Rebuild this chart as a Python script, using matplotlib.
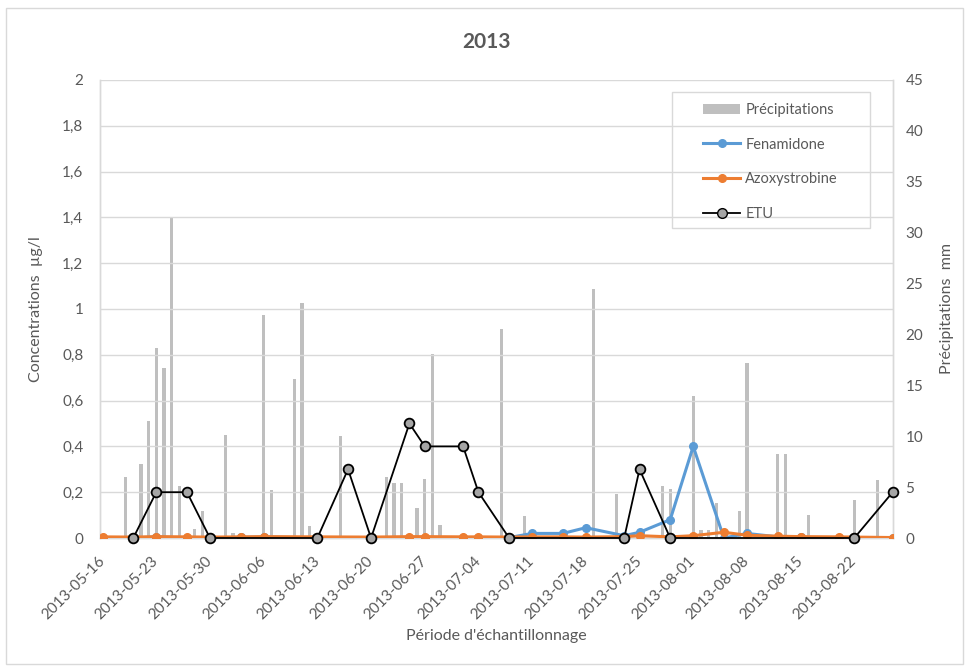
import datetime as dt
import matplotlib
matplotlib.use("Agg")
import matplotlib.pyplot as plt
import matplotlib.dates as mdates
from matplotlib.lines import Line2D
from matplotlib.patches import Patch, Rectangle

plt.rcParams['font.family'] = ['Lato', 'DejaVu Sans']

# Daily precipitation (mm)
precip_dates = ['2013-05-19', '2013-05-21', '2013-05-22', '2013-05-23', '2013-05-24',
                '2013-05-25', '2013-05-26', '2013-05-28', '2013-05-29', '2013-06-01',
                '2013-06-02', '2013-06-06', '2013-06-07', '2013-06-10', '2013-06-11',
                '2013-06-12', '2013-06-16', '2013-06-22', '2013-06-23', '2013-06-24',
                '2013-06-26', '2013-06-27', '2013-06-28', '2013-06-29', '2013-07-07',
                '2013-07-10', '2013-07-19', '2013-07-22', '2013-07-28', '2013-07-29',
                '2013-08-01', '2013-08-02', '2013-08-03', '2013-08-04', '2013-08-07',
                '2013-08-08', '2013-08-12', '2013-08-13', '2013-08-16', '2013-08-22',
                '2013-08-25']
precip_mm = [6.0, 7.3, 11.5, 18.7, 16.7,
             31.5, 5.1, 0.9, 2.7, 10.1,
             0.5, 21.9, 4.7, 15.6, 23.1,
             1.2, 10.0, 6.0, 5.4, 5.4,
             2.9, 5.8, 18.1, 1.3, 20.5,
             2.2, 24.5, 4.3, 5.1, 4.8,
             14.0, 0.8, 0.8, 3.4, 2.7,
             17.2, 8.3, 8.3, 2.3, 3.7,
             5.7]

# Sampling dates for Fenamidone / Azoxystrobine (µg/l)
sample_dates = ['2013-05-16', '2013-05-20', '2013-05-23', '2013-05-27', '2013-05-30',
                '2013-06-03', '2013-06-06', '2013-06-13', '2013-06-20', '2013-06-25',
                '2013-06-27', '2013-07-02', '2013-07-04', '2013-07-08', '2013-07-11',
                '2013-07-15', '2013-07-18', '2013-07-23', '2013-07-25', '2013-07-29',
                '2013-08-01', '2013-08-05', '2013-08-08', '2013-08-12', '2013-08-15',
                '2013-08-20', '2013-08-22', '2013-08-27']
fenamidone = [0.0, 0.0, 0.005, 0.0, 0.0,
              0.003, 0.005, 0.0, 0.0, 0.0,
              0.0, 0.0, 0.0, 0.002, 0.02,
              0.02, 0.045, 0.01, 0.025, 0.08,
              0.4, 0.0, 0.02, 0.005, 0.003,
              0.0, 0.0, 0.0]
azoxystrobine = [0.005, 0.004, 0.006, 0.005, 0.004,
                 0.005, 0.006, 0.005, 0.004, 0.006,
                 0.006, 0.005, 0.005, 0.004, 0.005,
                 0.005, 0.004, 0.006, 0.01, 0.005,
                 0.01, 0.025, 0.012, 0.008, 0.006,
                 0.005, 0.004, 0.002]

# ETU (µg/l)
etu_dates = ['2013-05-20', '2013-05-23', '2013-05-27', '2013-05-30', '2013-06-13',
             '2013-06-17', '2013-06-20', '2013-06-25', '2013-06-27', '2013-07-02',
             '2013-07-04', '2013-07-08', '2013-07-23', '2013-07-25', '2013-07-29',
             '2013-08-22', '2013-08-27']
etu = [0.0, 0.2, 0.2, 0.0, 0.0,
       0.3, 0.0, 0.5, 0.4, 0.4,
       0.2, 0.0, 0.0, 0.3, 0.0,
       0.0, 0.2]

tick_dates = ['2013-05-16', '2013-05-23', '2013-05-30', '2013-06-06', '2013-06-13',
              '2013-06-20', '2013-06-27', '2013-07-04', '2013-07-11', '2013-07-18',
              '2013-07-25', '2013-08-01', '2013-08-08', '2013-08-15', '2013-08-22']
conc_ticks = [0, 0.2, 0.4, 0.6, 0.8, 1.0, 1.2, 1.4, 1.6, 1.8, 2.0]
mm_ticks = [0, 5, 10, 15, 20, 25, 30, 35, 40, 45]


def to_dt(s):
    return dt.datetime.strptime(s, '%Y-%m-%d')


text_col = '#595959'
grid_col = '#d9d9d9'
bar_col = '#BFBFBF'
blue = '#5B9BD5'
orange = '#ED7D31'

fig = plt.figure(figsize=(9.72, 6.72), dpi=100)
fig.patch.set_facecolor('white')
fig.add_artist(Rectangle((0.006, 0.012), 0.985, 0.976, transform=fig.transFigure,
                         fill=False, edgecolor=grid_col, linewidth=1.0))

ax = fig.add_axes([0.1029, 0.1994, 0.8158, 0.6816])
ax2 = ax.twinx()

# precipitation bars on the secondary axis, kept behind the concentration lines
ax2.bar([to_dt(d) for d in precip_dates], precip_mm, width=0.42,
        color=bar_col, edgecolor='none', zorder=1)
ax.set_zorder(ax2.get_zorder() + 1)
ax.patch.set_visible(False)

sd = [to_dt(d) for d in sample_dates]
ax.plot(sd, fenamidone, color=blue, lw=2.2, marker='o', ms=5.5,
        markeredgecolor=blue, zorder=3)
ax.plot(sd, azoxystrobine, color=orange, lw=2.2, marker='o', ms=5.5,
        markeredgecolor=orange, zorder=4)
ax.plot([to_dt(d) for d in etu_dates], etu, color='black', lw=1.3, marker='o',
        ms=7, markerfacecolor='#A5A5A5', markeredgecolor='black',
        markeredgewidth=1.3, zorder=5, clip_on=False)

xmin = to_dt('2013-05-16') - dt.timedelta(hours=8)
xmax = to_dt('2013-08-27') + dt.timedelta(hours=1)
ax.set_xlim(xmin, xmax)
ax.set_ylim(0, 2)
ax2.set_ylim(0, 45)

ax.set_yticks(conc_ticks)
ax.set_yticklabels([('%g' % v).replace('.', ',') for v in conc_ticks])
ax2.set_yticks(mm_ticks)
ax2.set_yticklabels([str(v) for v in mm_ticks])

ax.set_xticks([to_dt(d) for d in tick_dates])
ax.xaxis.set_major_formatter(mdates.DateFormatter('%Y-%m-%d'))
for lbl in ax.get_xticklabels():
    lbl.set_rotation(45)
    lbl.set_ha('right')
    lbl.set_va('center')
    lbl.set_rotation_mode('anchor')

ax.grid(axis='y', color=grid_col, lw=1.0)
ax.set_axisbelow(True)

for a in (ax, ax2):
    for side, sp in a.spines.items():
        sp.set_color(grid_col)
        sp.set_linewidth(1.0)
    a.spines['top'].set_visible(False)

ax.tick_params(axis='x', length=0, pad=15, labelsize=11, labelcolor=text_col)
ax.tick_params(axis='y', length=0, pad=12, labelsize=11, labelcolor=text_col)
ax2.tick_params(axis='y', length=0, pad=9, labelsize=11, labelcolor=text_col)

ax.set_ylabel('Concentrations  µg/l', fontsize=11.5, color=text_col, labelpad=14)
ax2.set_ylabel('Précipitations  mm', fontsize=11.5, color=text_col, labelpad=12)
ax.set_xlabel("Période d'échantillonnage", fontsize=11.5, color=text_col, labelpad=5)

fig.text(0.5, 0.937, '2013', ha='center', va='center', fontsize=15,
         fontweight='bold', color=text_col)

# legend: entries without frame, box drawn separately
handles = [
    Patch(facecolor=bar_col, edgecolor='none'),
    Line2D([], [], color=blue, lw=2.2, marker='o', ms=5.5, markeredgecolor=blue),
    Line2D([], [], color=orange, lw=2.2, marker='o', ms=5.5, markeredgecolor=orange),
    Line2D([], [], color='black', lw=1.3, marker='o', ms=7,
           markerfacecolor='#A5A5A5', markeredgecolor='black'),
]
labels = ['Précipitations', 'Fenamidone', 'Azoxystrobine', 'ETU']
leg = ax.legend(handles, labels, loc='upper left', bbox_to_anchor=(0.7233, 0.847),
                bbox_transform=fig.transFigure, fontsize=10.5, frameon=False,
                labelspacing=1.42, handlelength=2.55, handletextpad=0.35,
                borderpad=0, borderaxespad=0)
for t in leg.get_texts():
    t.set_color(text_col)
fig.add_artist(Rectangle((0.6914, 0.6607), 0.2037, 0.2024, transform=fig.transFigure,
                         fill=False, edgecolor=grid_col, linewidth=1.0, zorder=10))

fig.savefig('out.png', dpi=100, facecolor='white')
